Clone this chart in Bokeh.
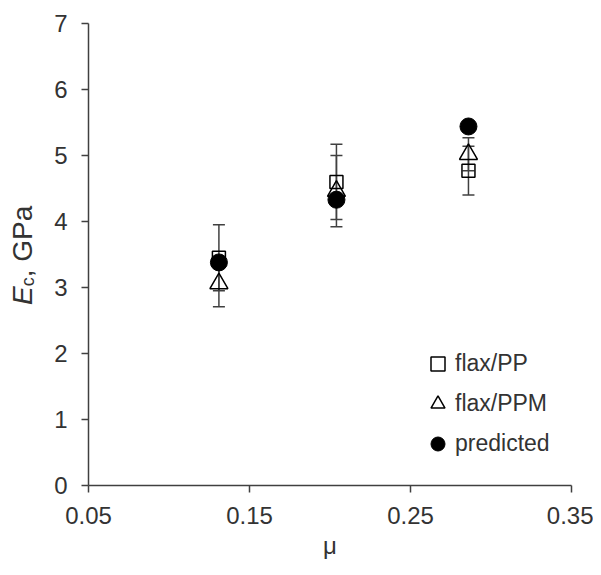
from bokeh.plotting import figure
from bokeh.models import (ColumnDataSource, Whisker, Range1d, FixedTicker, PrintfTickFormatter,
                          Legend, LegendItem, TeeHead, Div)
from bokeh.layouts import row
from bokeh.embed import file_html
from bokeh.resources import INLINE

# ---- data ----
mu = [0.131, 0.204, 0.286]
flax_pp = [3.45, 4.60, 4.77]
flax_pp_err = [0.50, 0.57, 0.37]
flax_ppm = [3.06, 4.46, 5.02]
flax_ppm_err = [0.35, 0.54, 0.25]
predicted = [3.38, 4.33, 5.44]
x_ticks = [0.05, 0.15, 0.25, 0.35]
y_ticks = [0, 1, 2, 3, 4, 5, 6, 7]
series_labels = ["flax/PP", "flax/PPM", "predicted"]

FONT = "Liberation Sans"
TXT = "#333333"
AX = "#404040"

DIV_W = 40
W, H = 593 - DIV_W, 567
p = figure(width=W, height=H, x_range=Range1d(0.05, 0.35), y_range=Range1d(0, 7),
           output_backend="svg", toolbar_location=None,
           min_border_left=88 - DIV_W, min_border_right=22, min_border_top=23,
           min_border_bottom=82)
p.grid.visible = False
p.outline_line_color = None

for ax in (p.xaxis, p.yaxis):
    ax.axis_line_color = AX
    ax.axis_line_width = 1.5
    ax.major_tick_line_color = AX
    ax.major_tick_line_width = 1.5
    ax.major_tick_out = 7
    ax.major_tick_in = 0
    ax.minor_tick_line_color = None
    ax.major_label_text_font = FONT
    ax.major_label_text_font_size = "24px"
    ax.major_label_text_color = TXT
    ax.major_label_standoff = 14

p.xaxis.ticker = FixedTicker(ticks=x_ticks, minor_ticks=[])
p.xaxis.formatter = PrintfTickFormatter(format="%.2f")
p.yaxis.ticker = FixedTicker(ticks=y_ticks, minor_ticks=[])
p.xaxis.axis_label = "μ"
p.xaxis.axis_label_text_font = FONT
p.xaxis.axis_label_text_font_size = "24px"
p.xaxis.axis_label_text_font_style = "normal"
p.xaxis.axis_label_text_color = TXT
p.xaxis.axis_label_standoff = 5

# error bars
def add_whisker(y, err):
    src = ColumnDataSource(dict(x=mu, upper=[a + b for a, b in zip(y, err)],
                                lower=[a - b for a, b in zip(y, err)]))
    w = Whisker(base="x", upper="upper", lower="lower", source=src, level="underlay",
                line_color=AX, line_width=1.5,
                upper_head=TeeHead(size=12, line_color=AX, line_width=1.5),
                lower_head=TeeHead(size=12, line_color=AX, line_width=1.5))
    p.add_layout(w)

add_whisker(flax_pp, flax_pp_err)
add_whisker(flax_ppm, flax_ppm_err)

r_pp = p.scatter(mu, flax_pp, marker="square", size=13, fill_color=None,
                 line_color="black", line_width=1.5)
r_ppm = p.scatter(mu, flax_ppm, marker="triangle", size=18, fill_color=None,
                  line_color="black", line_width=1.5)
r_pred = p.scatter(mu, predicted, marker="circle", size=17, fill_color="black",
                   line_color="black", line_width=1)

legend = Legend(items=[LegendItem(label=series_labels[0], renderers=[r_pp]),
                       LegendItem(label=series_labels[1], renderers=[r_ppm]),
                       LegendItem(label=series_labels[2], renderers=[r_pred])],
                location=(332, 24), glyph_width=35, glyph_height=35, label_height=35,
                spacing=5, label_standoff=0, padding=0, margin=0,
                border_line_color=None, background_fill_alpha=0,
                label_text_font=FONT, label_text_font_size="23px", label_text_color=TXT)
p.add_layout(legend)

# y-axis title: italic E, subscript c, ", GPa" -- rotated text beside the plot
ylabel_html = (
    f'<div style="position:relative;width:{DIV_W}px;height:{H}px;">'
    '<div style="position:absolute;left:9px;top:305px;white-space:nowrap;'
    "font-family:'Liberation Sans';font-size:28px;line-height:28px;color:#333333;"
    'transform:rotate(-90deg);transform-origin:0 0;">'
    '<i>E</i><span style="font-size:18px;position:relative;top:2px;">c</span>, GPa'
    '</div></div>'
)
ylabel = Div(text=ylabel_html, width=DIV_W, height=H, margin=0)

layout = row(ylabel, p, spacing=0)
open("out.html", "w").write(file_html(layout, INLINE))
